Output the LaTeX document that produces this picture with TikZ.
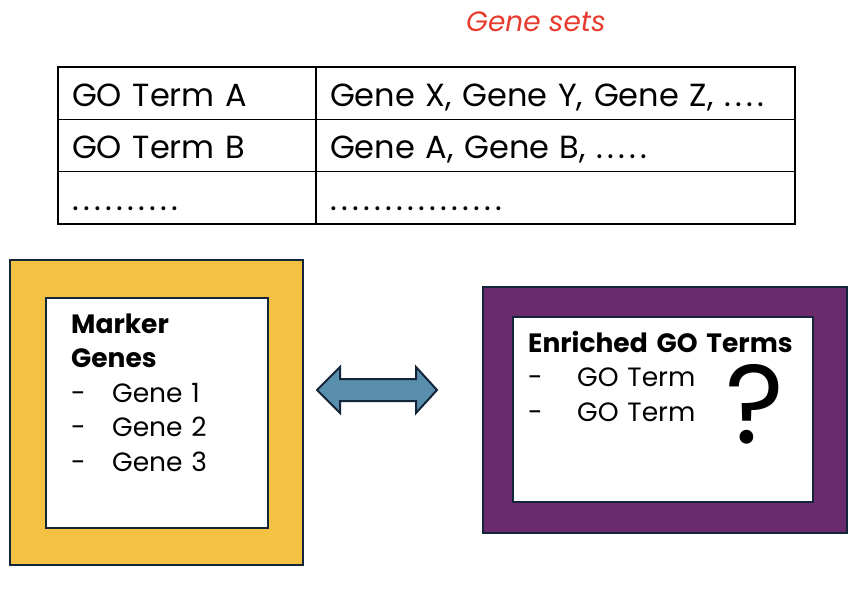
\documentclass[tikz,border=0pt]{standalone}
\usepackage{fontspec}
\setmainfont{Poppins}
\usetikzlibrary{positioning}
\definecolor{frameline}{HTML}{13253A}
\definecolor{markeryellow}{HTML}{F4C242}
\definecolor{termpurple}{HTML}{6B2A6B}
\definecolor{linkblue}{HTML}{5A8EAD}
\definecolor{setred}{HTML}{E63B2E}
\newcommand{\gapdots}[1]{\foreach \i in {1,...,#1}{.\kern4.3pt}}
\begin{document}
\begin{tikzpicture}[x=1pt,y=-1pt]
\tikzstyle{cell}=[rectangle,draw,line width=1.3pt,outer sep=0pt,inner xsep=14pt,inner ysep=0pt,minimum height=52.33pt,align=left,text height=26pt,text depth=0pt,font=\fontsize{32}{38}\selectfont]
\tikzstyle{termcell}=[cell,text width=230pt]
\tikzstyle{genecell}=[cell,text width=451pt]
\tikzstyle{frame}=[rectangle,draw=frameline,line width=2.5pt,outer sep=0pt]
\tikzstyle{innerbox}=[frame,fill=white,line width=2pt]
\tikzstyle{boxtext}=[anchor=base west,inner sep=0pt,align=left,font=\fontsize{26.5}{34.5}\selectfont]
\useasboundingbox (0,0) rectangle (864,614);
% gene set table
\node[setred,font=\fontsize{28}{32}\selectfont\itshape] (genesets) at (536,22) {Gene sets};
\node[termcell,anchor=north west] (ta) at (58,67) {GO Term A};
\node[genecell,anchor=north west] (ga) at (ta.north east) {Gene X, Gene Y, Gene Z, \gapdots{4}};
\node[termcell,below=0pt of ta] (tb) {GO Term B};
\node[genecell,below=0pt of ga] (gb) {Gene A, Gene B, \gapdots{5}};
\node[termcell,below=0pt of tb] (tc) {\gapdots{10}};
\node[genecell,below=0pt of gb] (gc) {\gapdots{16}};
% marker genes
\node[frame,fill=markeryellow,minimum width=293pt,minimum height=305pt,anchor=north west] (markerframe) at (10,260) {};
\node[innerbox,minimum width=222pt,minimum height=230pt] (markerbox) at (markerframe.center) {};
\node[boxtext,text width=190pt] (markers) at (71,333) {\textbf{Marker}\\\textbf{Genes}\\\makebox[41pt][l]{-}Gene 1\\\makebox[41pt][l]{-}Gene 2\\\makebox[41pt][l]{-}Gene 3};
% enriched terms
\node[frame,fill=termpurple,minimum width=364pt,minimum height=246pt,anchor=north west] (termframe) at (483,287) {};
\node[innerbox,minimum width=300pt,minimum height=185pt,anchor=north west] (termbox) at (513,317) {};
\node[boxtext,text width=280pt] (terms) at (528,352) {\textbf{Enriched GO Terms}\\\makebox[49pt][l]{-}GO Term\\\makebox[49pt][l]{-}GO Term};
\node[anchor=base,inner sep=0pt,font=\fontsize{112}{112}\selectfont] (unknown) at (755,443) {?};
% link between the two boxes
\coordinate (linkl) at (317,390);
\coordinate (linkr) at (437,390);
\draw[frameline,fill=linkblue,line width=2pt,line join=miter] (linkl) -- ++(23,-23) -- ++(0,12) -- ++(76,0) -- ++(0,-12) -- (linkr) -- ++(-21,23) -- ++(0,-12) -- ++(-76,0) -- ++(0,12) -- cycle;
\end{tikzpicture}
\end{document}
